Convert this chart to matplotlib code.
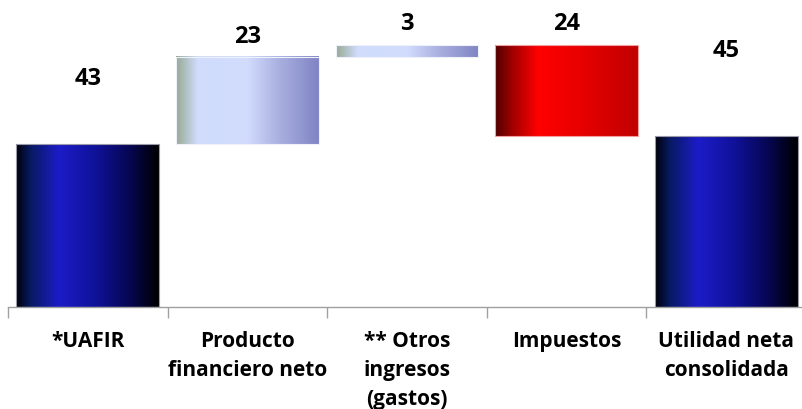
import numpy as np
import matplotlib
matplotlib.use("Agg")
import matplotlib.pyplot as plt
from matplotlib.colors import LinearSegmentedColormap

categories = ["*UAFIR", "Producto\nfinanciero neto", "** Otros\ningresos\n(gastos)",
              "Impuestos", "Utilidad neta\nconsolidada"]
values = [43, 23, 3, 24, 45]
kinds = ["total", "up", "up", "down", "total"]
label_offsets = [17.2, 5.3, 5.6, 5.6, 22.5]

blue = LinearSegmentedColormap.from_list("blue", [
    (0.0, "#000008"), (0.1, "#081a60"), (0.3, "#1c1cc8"), (0.55, "#10129a"),
    (0.8, "#060650"), (1.0, "#000000")])
light = LinearSegmentedColormap.from_list("light", [
    (0.0, "#98aa94"), (0.15, "#d0dcfc"), (0.5, "#d2dcfd"), (0.7, "#acb4e2"),
    (1.0, "#8084c4")])
red = LinearSegmentedColormap.from_list("red", [
    (0.0, "#500000"), (0.12, "#a00000"), (0.3, "#ff0000"), (0.6, "#e80000"),
    (1.0, "#c00000")])
cmaps = {"total": blue, "up": light, "down": red}
edges = {"total": "#9a9aa8", "up": "#eef0fa", "down": "#f0a0a0"}

plt.rcParams['font.family'] = ['Open Sans', 'DejaVu Sans']
fig = plt.figure(figsize=(8.02, 4.09), dpi=100)
ax = fig.add_axes([8 / 802, 102 / 409, 798 / 802, 307 / 409])

grad = np.linspace(0, 1, 256).reshape(1, -1)
width = 0.895
running = 0
for i, (v, k) in enumerate(zip(values, kinds)):
    if k == "total":
        bottom, top = 0, v
        running = v
    elif k == "up":
        bottom, top = running, running + v
        running += v
    else:
        bottom, top = running - v, running
        running -= v
    x0, x1 = i - width / 2, i + width / 2
    ax.imshow(grad, cmap=cmaps[k], aspect="auto", extent=(x0, x1, bottom, top),
              interpolation="bilinear", zorder=2)
    ax.add_patch(plt.Rectangle((x0, bottom), width, top - bottom, fill=False,
                               edgecolor=edges[k], lw=0.8, zorder=3))
    ax.text(i, top + label_offsets[i], str(v), ha="center", va="center",
            fontsize=17, fontweight="bold", color="black")

ax.set_xlim(-0.5, len(values) - 0.5)
ax.set_ylim(0, 81)
for s in ["top", "right", "left"]:
    ax.spines[s].set_visible(False)
ax.spines["bottom"].set_color("#a0a0a0")
ax.spines["bottom"].set_linewidth(1.0)
ax.set_yticks([])
ax.set_xticks(range(len(categories)))
ax.set_xticklabels(categories, fontsize=15, fontweight="bold", linespacing=1.52,
                   va="top")
ax.tick_params(axis="x", which="major", length=0, pad=17)
ax.set_xticks(np.arange(-0.5, len(categories), 1), minor=True)
ax.tick_params(axis="x", which="minor", length=8, color="#a0a0a0", width=1.0)

fig.savefig("out.png", dpi=100)
